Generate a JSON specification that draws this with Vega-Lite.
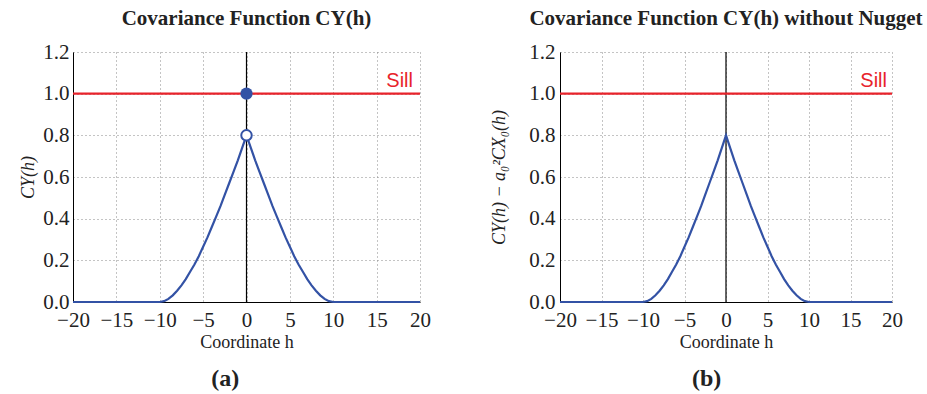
{
  "$schema": "https://vega.github.io/schema/vega-lite/v6.json",
  "padding": {"left": 19, "top": 8, "right": 5, "bottom": 5},
  "background": "white",
  "datasets": {
    "curve": [
      {"h": -20, "c": 0}, {"h": -10, "c": 0}, {"h": -9.5, "c": 0.004}, {"h": -9, "c": 0.015},
      {"h": -8.5, "c": 0.032}, {"h": -8, "c": 0.054}, {"h": -7.5, "c": 0.08}, {"h": -7, "c": 0.11},
      {"h": -6.5, "c": 0.145}, {"h": -6, "c": 0.18}, {"h": -5.5, "c": 0.22}, {"h": -5, "c": 0.265},
      {"h": -4.5, "c": 0.31}, {"h": -4, "c": 0.36}, {"h": -3.5, "c": 0.41}, {"h": -3, "c": 0.46},
      {"h": -2.5, "c": 0.515}, {"h": -2, "c": 0.57}, {"h": -1.5, "c": 0.625}, {"h": -1, "c": 0.68},
      {"h": -0.5, "c": 0.74}, {"h": 0, "c": 0.8},
      {"h": 0.5, "c": 0.74}, {"h": 1, "c": 0.68}, {"h": 1.5, "c": 0.625}, {"h": 2, "c": 0.57},
      {"h": 2.5, "c": 0.515}, {"h": 3, "c": 0.46}, {"h": 3.5, "c": 0.41}, {"h": 4, "c": 0.36},
      {"h": 4.5, "c": 0.31}, {"h": 5, "c": 0.265}, {"h": 5.5, "c": 0.22}, {"h": 6, "c": 0.18},
      {"h": 6.5, "c": 0.145}, {"h": 7, "c": 0.11}, {"h": 7.5, "c": 0.08}, {"h": 8, "c": 0.054},
      {"h": 8.5, "c": 0.032}, {"h": 9, "c": 0.015}, {"h": 9.5, "c": 0.004}, {"h": 10, "c": 0},
      {"h": 20, "c": 0}
    ],
    "sill": [{"h": -20, "c": 1, "label": "Sill"}, {"h": 20, "c": 1, "label": "Sill"}],
    "zeroline": [{"h": 0, "lo": 0, "hi": 1.2}],
    "points": [
      {"h": 0, "c": 1, "kind": "filled"},
      {"h": 0, "c": 0.8, "kind": "open"}
    ]
  },
  "config": {
    "font": "Liberation Serif",
    "view": {"stroke": null},
    "axis": {
      "domainColor": "#000",
      "domainWidth": 1,
      "labelFont": "Liberation Serif",
      "labelFontSize": 21,
      "labelColor": "#222",
      "labelOverlap": false,
      "labelFlush": false,
      "titleFont": "Liberation Serif",
      "titleFontSize": 18,
      "titleFontWeight": "normal",
      "titleColor": "#222",
      "gridColor": "#888",
      "gridDash": [1, 3],
      "gridWidth": 1,
      "ticks": false
    },
    "title": {"font": "Liberation Serif", "color": "#222"}
  },
  "spacing": 59,
  "hconcat": [
    {
      "title": {"text": "(a)", "orient": "bottom", "fontSize": 24, "fontWeight": "bold", "anchor": "middle", "offset": 16},
      "vconcat": [
        {
          "width": 347,
          "height": 250,
          "title": {"text": "Covariance Function CY(h)", "fontSize": 21, "fontWeight": "bold", "anchor": "middle", "frame": "group", "offset": 12},
          "layer": [
            {
              "data": {"name": "zeroline"},
              "mark": {"type": "rule", "color": "#000", "strokeWidth": 1.2},
              "encoding": {
                "x": {"field": "h", "type": "quantitative", "scale": {"domain": [-20, 20], "nice": false},
                  "axis": {"values": [-20, -15, -10, -5, 0, 5, 10, 15, 20], "title": "Coordinate h", "labelPadding": 7, "titlePadding": 3, "grid": true}},
                "y": {"field": "lo", "type": "quantitative", "scale": {"domain": [0, 1.2], "nice": false},
                  "axis": {"values": [0, 0.2, 0.4, 0.6, 0.8, 1.0, 1.2], "format": ".1f", "title": "CY(h)", "titleFontStyle": "italic", "titlePadding": 5, "labelPadding": 4, "grid": true}},
                "y2": {"field": "hi"}
              }
            },
            {
              "data": {"name": "sill"},
              "mark": {"type": "line", "color": "#e8232b", "strokeWidth": 2.2},
              "encoding": {
                "x": {"field": "h", "type": "quantitative"},
                "y": {"field": "c", "type": "quantitative"}
              }
            },
            {
              "data": {"name": "sill"},
              "transform": [{"filter": "datum.h == 20"}],
              "mark": {"type": "text", "color": "#e8232b", "font": "Liberation Sans", "fontSize": 20, "align": "right", "baseline": "alphabetic", "dx": -7, "dy": -7},
              "encoding": {
                "x": {"field": "h", "type": "quantitative"},
                "y": {"field": "c", "type": "quantitative"},
                "text": {"field": "label"}
              }
            },
            {
              "data": {"name": "curve"},
              "mark": {"type": "line", "color": "#3352a5", "strokeWidth": 2.2},
              "encoding": {
                "x": {"field": "h", "type": "quantitative"},
                "y": {"field": "c", "type": "quantitative"}
              }
            },
            {
              "data": {"name": "points"},
              "transform": [{"filter": "datum.kind == 'filled'"}],
              "mark": {"type": "point", "shape": "circle", "filled": true, "color": "#3352a5", "size": 150, "opacity": 1},
              "encoding": {
                "x": {"field": "h", "type": "quantitative"},
                "y": {"field": "c", "type": "quantitative"}
              }
            },
            {
              "data": {"name": "points"},
              "transform": [{"filter": "datum.kind == 'open'"}],
              "mark": {"type": "point", "shape": "circle", "filled": true, "fill": "white", "stroke": "#3352a5", "strokeWidth": 2, "size": 110, "opacity": 1},
              "encoding": {
                "x": {"field": "h", "type": "quantitative"},
                "y": {"field": "c", "type": "quantitative"}
              }
            }
          ]
        }
      ]
    },
    {
      "title": {"text": "(b)", "orient": "bottom", "fontSize": 24, "fontWeight": "bold", "anchor": "middle", "offset": 16},
      "vconcat": [
        {
          "width": 332,
          "height": 250,
          "title": {"text": "Covariance Function CY(h) without Nugget", "fontSize": 21, "fontWeight": "bold", "anchor": "middle", "frame": "group", "offset": 12},
          "layer": [
            {
              "data": {"name": "zeroline"},
              "mark": {"type": "rule", "color": "#000", "strokeWidth": 1.2},
              "encoding": {
                "x": {"field": "h", "type": "quantitative", "scale": {"domain": [-20, 20], "nice": false},
                  "axis": {"values": [-20, -15, -10, -5, 0, 5, 10, 15, 20], "title": "Coordinate h", "labelPadding": 7, "titlePadding": 3, "grid": true}},
                "y": {"field": "lo", "type": "quantitative", "scale": {"domain": [0, 1.2], "nice": false},
                  "axis": {"values": [0, 0.2, 0.4, 0.6, 0.8, 1.0, 1.2], "format": ".1f", "title": "CY(h) − a₀²CX₀(h)", "titleFontStyle": "italic", "titlePadding": 20, "labelPadding": 5, "grid": true}},
                "y2": {"field": "hi"}
              }
            },
            {
              "data": {"name": "sill"},
              "mark": {"type": "line", "color": "#e8232b", "strokeWidth": 2.2},
              "encoding": {
                "x": {"field": "h", "type": "quantitative"},
                "y": {"field": "c", "type": "quantitative"}
              }
            },
            {
              "data": {"name": "sill"},
              "transform": [{"filter": "datum.h == 20"}],
              "mark": {"type": "text", "color": "#e8232b", "font": "Liberation Sans", "fontSize": 20, "align": "right", "baseline": "alphabetic", "dx": -5, "dy": -7},
              "encoding": {
                "x": {"field": "h", "type": "quantitative"},
                "y": {"field": "c", "type": "quantitative"},
                "text": {"field": "label"}
              }
            },
            {
              "data": {"name": "curve"},
              "mark": {"type": "line", "color": "#3352a5", "strokeWidth": 2.2},
              "encoding": {
                "x": {"field": "h", "type": "quantitative"},
                "y": {"field": "c", "type": "quantitative"}
              }
            }
          ]
        }
      ]
    }
  ]
}
